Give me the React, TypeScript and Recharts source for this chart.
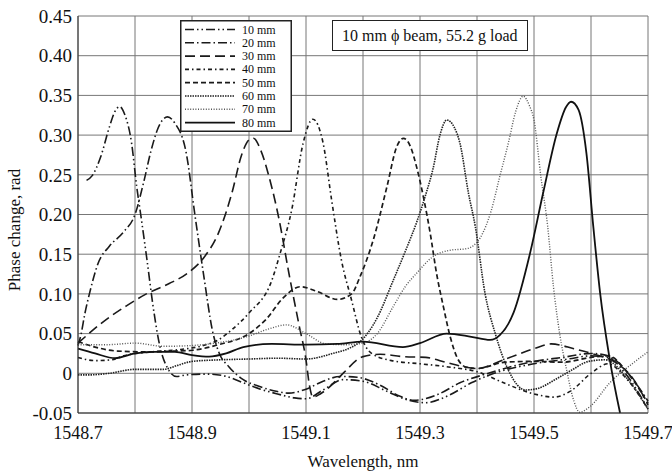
import React from 'react';
import { LineChart, Line, XAxis, YAxis, CartesianGrid, Label } from 'recharts';

// axis ticks (gridlines every 0.1 nm, labels every 0.2 nm)
const xTicks = [1548.7, 1548.8, 1548.9, 1549.0, 1549.1, 1549.2, 1549.3, 1549.4, 1549.5, 1549.6, 1549.7];
const xTickLabels = ['1548.7', '', '1548.9', '', '1549.1', '', '1549.3', '', '1549.5', '', '1549.7'];
const yTicks = [-0.05, 0, 0.05, 0.1, 0.15, 0.2, 0.25, 0.3, 0.35, 0.4, 0.45];
const yTickLabels = ['-0.05', '0', '0.05', '0.10', '0.15', '0.20', '0.25', '0.30', '0.35', '0.40', '0.45'];

// [wavelength nm, phase change rad]
const mm10: [number, number][] = [
  [1548.715, 0.243], [1548.725, 0.249], [1548.74, 0.273], [1548.755, 0.31], [1548.765, 0.33],
  [1548.773, 0.336], [1548.782, 0.326], [1548.794, 0.29], [1548.803, 0.235], [1548.81, 0.2],
  [1548.821, 0.143], [1548.832, 0.083], [1548.844, 0.033], [1548.856, 0.008], [1548.873, -0.004],
  [1548.89, -0.002], [1548.925, -0.001], [1548.955, -0.003], [1548.99, -0.012], [1549.02, -0.02],
  [1549.05, -0.026], [1549.08, -0.031], [1549.1, -0.032], [1549.13, -0.021], [1549.165, -0.008],
  [1549.2, -0.01], [1549.24, -0.022], [1549.28, -0.034], [1549.31, -0.037], [1549.35, -0.028],
  [1549.39, -0.012], [1549.43, 0.0], [1549.5, 0.012], [1549.56, 0.018], [1549.6, 0.022],
  [1549.63, 0.02], [1549.66, 0.0], [1549.7, -0.045],
];

const mm20: [number, number][] = [
  [1548.7, 0.035], [1548.705, 0.048], [1548.712, 0.075], [1548.72, 0.1], [1548.735, 0.138],
  [1548.755, 0.16], [1548.78, 0.178], [1548.8, 0.2], [1548.815, 0.24], [1548.828, 0.28],
  [1548.84, 0.308], [1548.857, 0.323], [1548.87, 0.315], [1548.89, 0.277], [1548.905, 0.2],
  [1548.92, 0.126], [1548.937, 0.05], [1548.948, 0.025], [1548.965, 0.008], [1548.99, -0.008],
  [1549.02, -0.017], [1549.05, -0.023], [1549.07, -0.025], [1549.1, -0.02], [1549.13, -0.01],
  [1549.16, -0.004], [1549.19, -0.005], [1549.23, -0.015], [1549.265, -0.029], [1549.29, -0.034],
  [1549.33, -0.027], [1549.37, -0.012], [1549.42, 0.0], [1549.5, 0.015], [1549.55, 0.02],
  [1549.6, 0.025], [1549.63, 0.022], [1549.665, 0.0], [1549.7, -0.035],
];

const mm30: [number, number][] = [
  [1548.7, 0.038], [1548.75, 0.068], [1548.785, 0.085], [1548.82, 0.1], [1548.86, 0.113],
  [1548.89, 0.125], [1548.92, 0.145], [1548.946, 0.176], [1548.97, 0.227], [1548.987, 0.275],
  [1549.0, 0.294], [1549.008, 0.296], [1549.02, 0.282], [1549.035, 0.248], [1549.053, 0.193],
  [1549.07, 0.126], [1549.088, 0.06], [1549.1, 0.017], [1549.106, -0.015], [1549.112, -0.03],
  [1549.125, -0.026], [1549.14, -0.018], [1549.165, 0.0], [1549.2, 0.021], [1549.23, 0.024],
  [1549.27, 0.021], [1549.31, 0.02], [1549.35, 0.013], [1549.4, 0.006], [1549.45, 0.018],
  [1549.5, 0.031], [1549.53, 0.037], [1549.57, 0.031], [1549.61, 0.023], [1549.64, 0.015],
  [1549.675, -0.008], [1549.7, -0.04],
];

const mm40: [number, number][] = [
  [1548.7, 0.02], [1548.73, 0.016], [1548.76, 0.017], [1548.78, 0.022], [1548.83, 0.027],
  [1548.88, 0.03], [1548.92, 0.035], [1548.946, 0.042], [1548.97, 0.055], [1549.0, 0.076],
  [1549.04, 0.117], [1549.055, 0.152], [1549.075, 0.206], [1549.095, 0.29], [1549.112, 0.32],
  [1549.13, 0.29], [1549.145, 0.218], [1549.162, 0.143], [1549.18, 0.092], [1549.197, 0.046],
  [1549.215, 0.025], [1549.25, 0.016], [1549.3, 0.012], [1549.35, 0.008], [1549.4, 0.002],
  [1549.45, -0.013], [1549.5, -0.026], [1549.535, -0.03], [1549.565, -0.022], [1549.6, 0.0],
  [1549.63, 0.012], [1549.66, -0.005], [1549.7, -0.045],
];

const mm50: [number, number][] = [
  [1548.7, 0.04], [1548.73, 0.033], [1548.77, 0.028], [1548.82, 0.027], [1548.87, 0.028],
  [1548.9, 0.029], [1548.946, 0.036], [1549.0, 0.05], [1549.03, 0.068], [1549.06, 0.095],
  [1549.09, 0.109], [1549.12, 0.103], [1549.155, 0.093], [1549.18, 0.1], [1549.195, 0.122],
  [1549.218, 0.168], [1549.242, 0.235], [1549.259, 0.285], [1549.271, 0.296], [1549.283, 0.286],
  [1549.294, 0.26], [1549.306, 0.222], [1549.318, 0.176], [1549.329, 0.126], [1549.341, 0.084],
  [1549.353, 0.046], [1549.365, 0.02], [1549.38, 0.008], [1549.4, 0.006], [1549.45, 0.014],
  [1549.5, 0.015], [1549.55, 0.014], [1549.6, 0.02], [1549.63, 0.022], [1549.665, 0.0],
  [1549.7, -0.038],
];

const mm60: [number, number][] = [
  [1548.7, -0.002], [1548.72, -0.002], [1548.755, 0.0], [1548.8, 0.005], [1548.85, 0.005],
  [1548.875, 0.01], [1548.9, 0.015], [1548.95, 0.017], [1549.0, 0.018], [1549.05, 0.019],
  [1549.1, 0.018], [1549.142, 0.024], [1549.195, 0.04], [1549.225, 0.07], [1549.253, 0.117],
  [1549.275, 0.155], [1549.294, 0.19], [1549.31, 0.225], [1549.323, 0.258], [1549.335, 0.3],
  [1549.347, 0.319], [1549.36, 0.31], [1549.37, 0.29], [1549.385, 0.227], [1549.397, 0.185],
  [1549.414, 0.101], [1549.432, 0.05], [1549.455, 0.004], [1549.485, -0.021], [1549.507, -0.019],
  [1549.537, -0.008], [1549.566, 0.004], [1549.596, 0.015], [1549.625, 0.017], [1549.665, -0.008],
  [1549.7, -0.045],
];

const mm70: [number, number][] = [
  [1548.7, 0.036], [1548.75, 0.036], [1548.8, 0.038], [1548.85, 0.034], [1548.9, 0.035],
  [1548.95, 0.039], [1548.98, 0.043], [1549.0, 0.047], [1549.035, 0.056], [1549.066, 0.061],
  [1549.1, 0.05], [1549.135, 0.037], [1549.17, 0.036], [1549.2, 0.038], [1549.225, 0.05],
  [1549.253, 0.084], [1549.275, 0.11], [1549.294, 0.126], [1549.323, 0.147], [1549.353, 0.155],
  [1549.382, 0.157], [1549.405, 0.17], [1549.425, 0.205], [1549.44, 0.248], [1549.455, 0.29],
  [1549.468, 0.33], [1549.481, 0.349], [1549.492, 0.337], [1549.5, 0.319], [1549.512, 0.248],
  [1549.524, 0.185], [1549.534, 0.11], [1549.545, 0.05], [1549.557, 0.005], [1549.57, -0.035],
  [1549.58, -0.049], [1549.598, -0.042], [1549.633, -0.012], [1549.674, 0.013], [1549.7, 0.027],
];

const mm80: [number, number][] = [
  [1548.7, 0.031], [1548.73, 0.025], [1548.765, 0.019], [1548.8, 0.025], [1548.83, 0.027],
  [1548.87, 0.027], [1548.9, 0.023], [1548.93, 0.021], [1548.96, 0.025], [1548.99, 0.033],
  [1549.04, 0.037], [1549.1, 0.036], [1549.155, 0.037], [1549.2, 0.04], [1549.27, 0.033],
  [1549.3, 0.038], [1549.347, 0.05], [1549.39, 0.046], [1549.423, 0.042], [1549.44, 0.048],
  [1549.464, 0.076], [1549.493, 0.151], [1549.516, 0.227], [1549.54, 0.302], [1549.556, 0.335],
  [1549.565, 0.342], [1549.578, 0.332], [1549.592, 0.277], [1549.604, 0.185], [1549.616, 0.101],
  [1549.633, 0.017], [1549.651, -0.05],
];

const seriesNames = ['10 mm', '20 mm', '30 mm', '40 mm', '50 mm', '60 mm', '70 mm', '80 mm'];
const seriesValues = [mm10, mm20, mm30, mm40, mm50, mm60, mm70, mm80];

// line looks, same order as the names
const lineStyles = [
  { stroke: '#1a1a1a', width: 1.6, dash: '9 3 1.5 3 1.5 3' },
  { stroke: '#1a1a1a', width: 1.6, dash: '9 3 1.5 3' },
  { stroke: '#1a1a1a', width: 1.6, dash: '10 5' },
  { stroke: '#1a1a1a', width: 1.6, dash: '4 3 1.5 3' },
  { stroke: '#1a1a1a', width: 1.7, dash: '5 3' },
  { stroke: '#222', width: 1.6, dash: '1.5 1' },
  { stroke: '#555', width: 1.4, dash: '1 1.6' },
  { stroke: '#111', width: 1.8, dash: undefined },
];

const FONT = '"Liberation Serif", "Times New Roman", serif';

const toPoints = (vals: [number, number][]) => vals.map(([x, y]) => ({ x, y }));

const LegendBox = () => (
  <div style={{ position: 'absolute', left: 180, top: 20, width: 112, height: 112 }}>
    <svg width={112} height={112}>
      <rect x={0.75} y={0.75} width={110.5} height={110.5} fill="#fff" stroke="#222" strokeWidth={1.5} />
      {seriesNames.map((name, i) => {
        const y = 9.5 + i * 13.3;
        const st = lineStyles[i];
        return (
          <g key={name}>
            <line x1={5} x2={55} y1={y} y2={y} stroke={st.stroke} strokeWidth={st.width} strokeDasharray={st.dash} />
            <text x={62} y={y} dominantBaseline="central" fontFamily={FONT} fontSize={12} fill="#111">{name}</text>
          </g>
        );
      })}
    </svg>
  </div>
);

const NoteBox = () => (
  <div
    style={{
      position: 'absolute', left: 332, top: 20, height: 29, padding: '0 9px',
      border: '1.5px solid #222', background: '#fff', fontFamily: FONT, fontSize: 16,
      lineHeight: '29px', color: '#111', whiteSpace: 'nowrap',
    }}
  >
    10 mm ϕ beam, 55.2 g load
  </div>
);

export default function App() {
  return (
    <div style={{ position: 'absolute', left: 0, top: 0, width: 672, height: 475, background: '#fff' }}>
      <LineChart width={672} height={475} margin={{ top: 16, right: 24, bottom: 0, left: 0 }}>
        <CartesianGrid stroke="#777" strokeWidth={1} />
        <XAxis
          dataKey="x"
          type="number"
          domain={[1548.7, 1549.7]}
          ticks={xTicks}
          tickFormatter={(v: number, i: number) => xTickLabels[i]}
          interval={0}
          height={62}
          tickLine={false}
          tickSize={0}
          tickMargin={13}
          axisLine={{ stroke: '#333' }}
          tick={{ fill: '#111', fontSize: 18, fontFamily: FONT }}
        >
          <Label
            content={() => (
              <text x={363} y={467} textAnchor="middle" fontFamily={FONT} fontSize={17} fill="#111">
                Wavelength, nm
              </text>
            )}
          />
        </XAxis>
        <YAxis
          type="number"
          domain={[-0.05, 0.45]}
          ticks={yTicks}
          tickFormatter={(v: number, i: number) => yTickLabels[i]}
          interval={0}
          width={78}
          tickLine={false}
          tickSize={0}
          tickMargin={6}
          axisLine={{ stroke: '#333' }}
          tick={{ fill: '#111', fontSize: 19, fontFamily: FONT }}
        >
          <Label
            content={() => (
              <text x={14} y={230} transform="rotate(-90 14 230)" textAnchor="middle" dominantBaseline="central" fontFamily={FONT} fontSize={17} fill="#111">
                Phase change, rad
              </text>
            )}
          />
        </YAxis>
        {seriesValues.map((vals, i) => (
          <Line
            key={seriesNames[i]}
            data={toPoints(vals)}
            dataKey="y"
            name={seriesNames[i]}
            type="monotone"
            stroke={lineStyles[i].stroke}
            strokeWidth={lineStyles[i].width}
            strokeDasharray={lineStyles[i].dash}
            dot={false}
            activeDot={false}
            isAnimationActive={false}
          />
        ))}
      </LineChart>
      <LegendBox />
      <NoteBox />
    </div>
  );
}
